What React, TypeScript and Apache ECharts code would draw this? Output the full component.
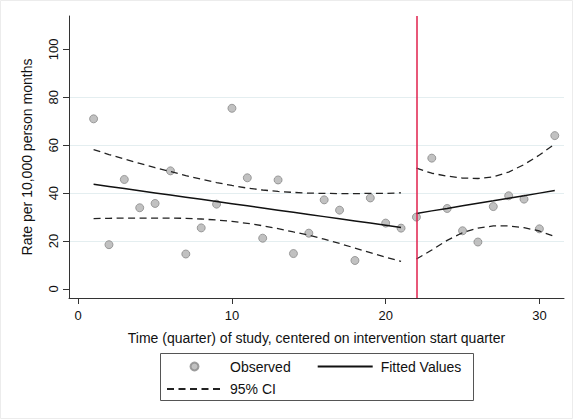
import React, { useEffect, useRef } from "react";
import * as echarts from "echarts";

const quarters = [1, 2, 3, 4, 5, 6, 7, 8, 9, 10, 11, 12, 13, 14, 15, 16, 17, 18, 19, 20, 21, 22, 23, 24, 25, 26, 27, 28, 29, 30, 31];
const observed = [71.0, 18.5, 45.7, 33.9, 35.7, 49.3, 14.6, 25.5, 35.4, 75.4, 46.4, 21.2, 45.5, 14.8, 23.3, 37.2, 32.9, 11.9, 38.0, 27.5, 25.4, 30.0, 54.6, 33.6, 24.3, 19.6, 34.4, 38.9, 37.5, 25.1, 64.0];

const preQuarters = [1, 2, 3, 4, 5, 6, 7, 8, 9, 10, 11, 12, 13, 14, 15, 16, 17, 18, 19, 20, 21];
const postQuarters = [22, 23, 24, 25, 26, 27, 28, 29, 30, 31];

const fittedPre = [43.7, 42.8, 41.9, 41.0, 40.1, 39.2, 38.3, 37.4, 36.5, 35.6, 34.7, 33.8, 32.9, 32.0, 31.1, 30.2, 29.3, 28.4, 27.5, 26.6, 25.7];
const fittedPost = [31.5, 32.6, 33.6, 34.7, 35.8, 36.8, 37.9, 38.9, 40.0, 41.1];
const ciUpperPre = [58.2, 56.1, 54.2, 52.4, 50.6, 49.0, 47.3, 45.8, 44.4, 43.2, 42.1, 41.3, 40.7, 40.3, 40.0, 39.9, 39.8, 39.8, 39.9, 39.9, 40.1];
const ciLowerPre = [29.4, 29.5, 29.6, 29.6, 29.6, 29.6, 29.5, 29.2, 28.8, 28.2, 27.4, 26.4, 25.2, 23.8, 22.5, 20.8, 19.0, 17.1, 15.2, 13.3, 11.5];
const ciUpperPost = [50.4, 48.3, 47.1, 46.3, 46.1, 46.8, 48.8, 51.9, 55.9, 60.5];
const ciLowerPost = [12.5, 16.3, 20.3, 23.5, 25.4, 26.3, 26.3, 25.6, 24.2, 21.9];

const interventionQuarter = 22;
const xTicks = [0, 10, 20, 30];
const yTicks = [0, 20, 40, 60, 80, 100];

const FONT = "Liberation Sans";

export default function App() {
  const ref = useRef<HTMLDivElement>(null);
  useEffect(() => {
    const chart = echarts.init(ref.current!, null, { renderer: "svg" });
    const pairs = (xs: number[], ys: number[]) => xs.map((x, i) => [x, ys[i]]);
    const dashStyle = { color: "#222", width: 1.3, type: [7, 4.5] as any };
    const fitStyle = { color: "#111", width: 1.5, type: "solid" as any };
    const lineBase = { type: "line", symbol: "none", showSymbol: false, smooth: false, z: 3 };
    const hiddenSymbol = { opacity: 0, color: "transparent", borderWidth: 0 };
    const legendText = { fontSize: 14, color: "#111", fontFamily: FONT, padding: [0, 0, 0, 3] };
    chart.setOption({
      animation: false,
      backgroundColor: "#ffffff",
      grid: { left: 69, top: 16, right: 9, bottom: 121, containLabel: false },
      xAxis: {
        type: "value",
        min: -0.6,
        max: 31.6,
        axisLine: { show: true, onZero: false, lineStyle: { color: "#333", width: 1 } },
        axisTick: { show: true, length: 6, customValues: xTicks, lineStyle: { color: "#333" } },
        axisLabel: { customValues: xTicks, margin: 11, fontSize: 13, color: "#111", fontFamily: FONT },
        splitLine: { show: false },
        name: "Time (quarter) of study, centered on intervention start quarter",
        nameLocation: "middle",
        nameGap: 33,
        nameTextStyle: { fontSize: 14, color: "#111", fontFamily: FONT },
      },
      yAxis: {
        type: "value",
        min: -3.75,
        max: 113.9,
        axisLine: { show: true, onZero: false, lineStyle: { color: "#333", width: 1 } },
        axisTick: { show: true, length: 6, customValues: yTicks, lineStyle: { color: "#333" } },
        axisLabel: { customValues: yTicks, rotate: 90, margin: 9, fontSize: 13, color: "#111", fontFamily: FONT },
        splitLine: { show: true, showMinLine: false, showMaxLine: false, lineStyle: { color: "#e4eef0", width: 1 } },
        name: "Rate per 10,000 person months",
        nameLocation: "middle",
        nameGap: 35,
        nameTextStyle: { fontSize: 14, color: "#111", fontFamily: FONT },
      },
      legend: [
        {
          data: [
            { name: "Observed", icon: "circle" },
            { name: "Fitted Values", itemStyle: hiddenSymbol },
          ],
          left: 189.5,
          top: 359.5,
          padding: 0,
          orient: "horizontal",
          itemWidth: 55,
          itemHeight: 8,
          itemGap: 26,
          selectedMode: false,
          textStyle: legendText,
        },
        {
          data: [{ name: "95% CI", itemStyle: hiddenSymbol }],
          left: 166,
          top: 382,
          padding: 0,
          itemWidth: 55,
          itemHeight: 8,
          selectedMode: false,
          textStyle: legendText,
        },
      ],
      graphic: [
        {
          type: "rect",
          shape: { x: 0.5, y: 0.5, width: 572, height: 418 },
          style: { fill: "none", stroke: "#ececec", lineWidth: 1 },
          silent: true,
          z: -10,
        },
        {
          type: "rect",
          shape: { x: 160.5, y: 353.5, width: 313, height: 47 },
          style: { fill: "none", stroke: "#555", lineWidth: 1 },
          silent: true,
        },
      ],
      series: [
        {
          name: "Observed",
          type: "scatter",
          data: pairs(quarters, observed),
          symbol: "circle",
          symbolSize: 8,
          itemStyle: { color: "#b2b2b2", borderColor: "#8a8a8a", borderWidth: 1 },
          z: 2,
          markLine: {
            silent: true,
            symbol: ["none", "none"],
            label: { show: false },
            lineStyle: { color: "#e0204c", width: 1.5, type: "solid" },
            data: [{ xAxis: interventionQuarter }],
          },
        },
        { ...lineBase, name: "Fitted Values", data: pairs(preQuarters, fittedPre), lineStyle: fitStyle, itemStyle: { color: "#111" } },
        { ...lineBase, name: "Fitted Values", data: pairs(postQuarters, fittedPost), lineStyle: fitStyle, itemStyle: { color: "#111" } },
        { ...lineBase, name: "95% CI", data: pairs(preQuarters, ciUpperPre), lineStyle: dashStyle, itemStyle: { color: "#222" } },
        { ...lineBase, name: "95% CI", data: pairs(preQuarters, ciLowerPre), lineStyle: dashStyle, itemStyle: { color: "#222" } },
        { ...lineBase, name: "95% CI", data: pairs(postQuarters, ciUpperPost), lineStyle: dashStyle, itemStyle: { color: "#222" } },
        { ...lineBase, name: "95% CI", data: pairs(postQuarters, ciLowerPost), lineStyle: dashStyle, itemStyle: { color: "#222" } },
      ],
    });
    return () => chart.dispose();
  }, []);
  return <div ref={ref} style={{ position: "fixed", left: 0, top: 0, width: 573, height: 419 }} />;
}
